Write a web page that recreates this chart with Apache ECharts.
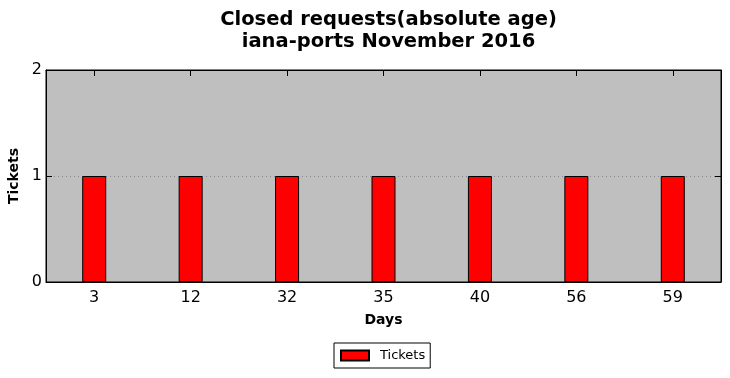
<!DOCTYPE html>
<html>
<head>
    <meta charset="utf-8">
    <title>Closed requests</title>
    <script type="text/javascript" src="https://cdn.jsdelivr.net/npm/echarts@6/dist/echarts.min.js"></script>
</head>
<body style="margin:0;padding:0;background:#fff;">
<div id="bar" style="width:730px;height:378px;"></div>
<script type="text/javascript">
    var days = ['3', '12', '32', '35', '40', '56', '59'];
    var tickets = [1, 1, 1, 1, 1, 1, 1];
    var yTicks = [0, 1, 2];

    var myChart = echarts.init(document.getElementById('bar'));
    var font = 'DejaVu Sans';

    function ticks() {
        return { show: true, inside: true, alignWithLabel: true, interval: 0, length: 6, lineStyle: { color: '#000', width: 1 } };
    }

    var option = {
        animation: false,
        backgroundColor: '#ffffff',
        title: {
            text: 'Closed requests(absolute age)\niana-ports November 2016',
            left: 383.5,
            textAlign: 'center',
            top: 4,
            textStyle: {
                fontFamily: font,
                fontSize: 19.5,
                fontWeight: 'bold',
                color: '#000',
                lineHeight: 22
            }
        },
        legend: {
            data: ['Tickets'],
            icon: 'rect',
            bottom: 10,
            left: 334,
            itemWidth: 28,
            itemHeight: 10,
            padding: [6, 5, 6, 6],
            borderColor: '#000',
            borderWidth: 1,
            borderRadius: 0,
            textStyle: { fontFamily: font, fontSize: 13, color: '#000', padding: [0, 0, 0, 6] }
        },
        grid: {
            left: 46,
            right: 9,
            top: 70,
            bottom: 96,
            outerBoundsMode: 'none',
            containLabel: false,
            backgroundColor: '#bfbfbf',
            show: true,
            borderColor: '#000',
            borderWidth: 1
        },
        xAxis: [{
            type: 'category',
            data: days,
            name: 'Days',
            nameLocation: 'middle',
            nameGap: 31,
            nameTextStyle: { fontFamily: font, fontSize: 14, fontWeight: 'bold', color: '#000' },
            axisLine: { onZero: false, lineStyle: { color: '#000' } },
            axisTick: ticks(),
            axisLabel: { fontFamily: font, fontSize: 16, color: '#000', margin: 8, interval: 0 }
        }, {
            type: 'category',
            data: days,
            position: 'top',
            axisLine: { show: true, onZero: false, lineStyle: { color: '#000' } },
            axisTick: ticks(),
            axisLabel: { show: false, interval: 0 },
            z: 10
        }],
        yAxis: [{
            type: 'value',
            min: 0,
            max: 2,
            interval: 1,
            name: 'Tickets',
            nameLocation: 'middle',
            nameGap: 20,
            nameTextStyle: { fontFamily: font, fontSize: 14, fontWeight: 'bold', color: '#000' },
            axisLine: { show: true, onZero: false, lineStyle: { color: '#000' } },
            axisTick: { show: true, inside: true, length: 6, lineStyle: { color: '#000' } },
            axisLabel: {
                fontFamily: font, fontSize: 16, color: '#000', margin: 4,
                formatter: function (v) { return yTicks.indexOf(v) >= 0 ? String(v) : ''; }
            },
            splitLine: { show: true, lineStyle: { color: '#8c8c8c', type: [1, 3], width: 1 } }
        }, {
            type: 'value',
            min: 0,
            max: 2,
            interval: 1,
            position: 'right',
            axisLine: { show: true, onZero: false, lineStyle: { color: '#000' } },
            axisTick: { show: true, inside: true, length: 6, lineStyle: { color: '#000' } },
            axisLabel: { show: false },
            splitLine: { show: false },
            z: 10
        }],
        series: [{
            name: 'Tickets',
            type: 'bar',
            data: tickets,
            barWidth: 24,
            itemStyle: { color: '#ff0000', borderColor: '#000', borderWidth: 1 }
        }]
    };
    myChart.setOption(option);
</script>
</body>
</html>
